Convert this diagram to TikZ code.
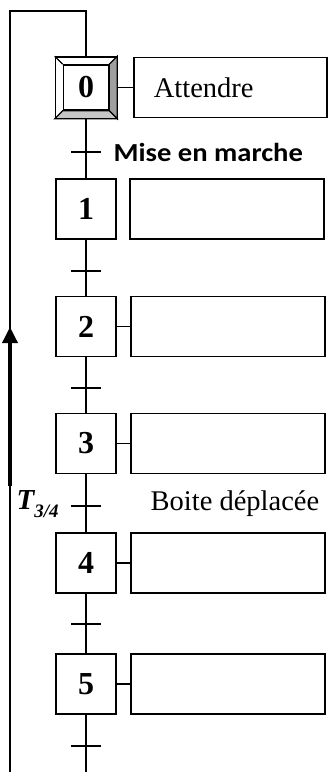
\documentclass[tikz,border=0pt]{standalone}
\usepackage{fontspec}
\setmainfont{Liberation Serif}
\newfontfamily\condfont[FakeStretch=1.1]{Carlito}
\usetikzlibrary{arrows.meta, positioning}

\begin{document}
\begin{tikzpicture}[x=1pt, y=-1pt, line width=1.3pt,
    etape/.style={draw, line width=1.6pt, minimum width=60pt, minimum height=60pt, inner sep=0pt, font=\fontsize{32}{32}\selectfont\bfseries},
    action/.style={draw, line width=1.6pt, minimum width=194pt, minimum height=60pt, inner sep=0pt},
    texte/.style={font=\fontsize{28.5}{28.5}\selectfont, inner sep=0pt}]

    \useasboundingbox (0,0) rectangle (328,772);

    % Draw the initial step (double square with bevel)
    \node[etape, minimum width=61pt, minimum height=61pt] (s0) at (86,87.5) {};
    \node[draw, line width=1.6pt, minimum size=45pt, inner sep=0pt] (s0in) at (s0) {};
    \filldraw[line width=1.2pt, fill=gray!75] (s0.north east) -- (s0in.north east) -- (s0in.south east) -- (s0.south east) -- cycle;
    \filldraw[line width=1.2pt, fill=gray!45] (s0.south west) -- (s0in.south west) -- (s0in.south east) -- (s0.south east) -- cycle;
    \draw[line width=1.2pt] (s0.north west) -- (s0in.north west);
    \node[draw, line width=1.6pt, minimum size=45pt, inner sep=0pt, font=\fontsize{32}{32}\selectfont\bfseries] at (s0) {0};

    % Draw the other steps
    \node[etape] (s1) at (86,209) {1};
    \node[etape] (s2) at (86,326.5) {2};
    \node[etape] (s3) at (86,443.5) {3};
    \node[etape] (s4) at (86,563) {4};
    \node[etape] (s5) at (86,684) {5};

    % Draw the action boxes
    \node[action, minimum width=193pt] (a0) at (230.5,87.5) {};
    \node[action] (a1) at (227,209) {};
    \node[action] (a2) at (228,326.5) {};
    \node[action] (a3) at (228,443.5) {};
    \node[action] (a4) at (228,563) {};
    \node[action] (a5) at (228,684) {};

    \node[texte, anchor=west] (att) at ([xshift=20pt]a0.west) {Attendre};

    % Links step -- action
    \draw (s0) -- (a0);
    \draw (s2) -- (a2);
    \draw (s3) -- (a3);
    \draw (s4) -- (a4);
    \draw (s5) -- (a5);

    % Draw the links between steps
    \coordinate (fin) at (86,772);
    \draw (s0) -- (s1);
    \draw (s1) -- (s2);
    \draw (s2) -- (s3);
    \draw (s3) -- (s4);
    \draw (s4) -- (s5);
    \draw (s5) -- (fin);

    % Draw the transitions
    \coordinate (t0) at (86,152);
    \coordinate (t1) at (86,271);
    \coordinate (t2) at (86,388);
    \coordinate (t3) at (86,506);
    \coordinate (t4) at (86,624);
    \coordinate (t5) at (86,746);
    \draw ([xshift=-15pt]t0) -- ([xshift=15pt]t0);
    \draw ([xshift=-15pt]t1) -- ([xshift=15pt]t1);
    \draw ([xshift=-15pt]t2) -- ([xshift=15pt]t2);
    \draw ([xshift=-15pt]t3) -- ([xshift=15pt]t3);
    \draw ([xshift=-15pt]t4) -- ([xshift=15pt]t4);
    \draw ([xshift=-15pt]t5) -- ([xshift=15pt]t5);

    \node[anchor=west, inner sep=0pt, font=\condfont\fontsize{26}{26}\selectfont\bfseries] (r0) at (113,152) {Mise en marche};
    \node[texte, anchor=base west] (r3) at (150,510) {Boite déplacée};
    \node[texte, anchor=base west, font=\fontsize{29}{29}\selectfont\bfseries\itshape] (n3) at (16,509)
        {T\raisebox{-8pt}{\fontsize{19}{19}\selectfont 3/4}};

    % Draw the return loop
    \coordinate (bas) at (10,772);
    \coordinate (haut) at (10,11);
    \draw (bas) -- (haut) -| (s0.north);
    \coordinate (fl1) at (10,486);
    \coordinate (fl2) at (10,327);
    \draw[line width=3.5pt, -{Triangle[length=16pt, width=15pt]}] (fl1) -- (fl2);

\end{tikzpicture}
\end{document}
